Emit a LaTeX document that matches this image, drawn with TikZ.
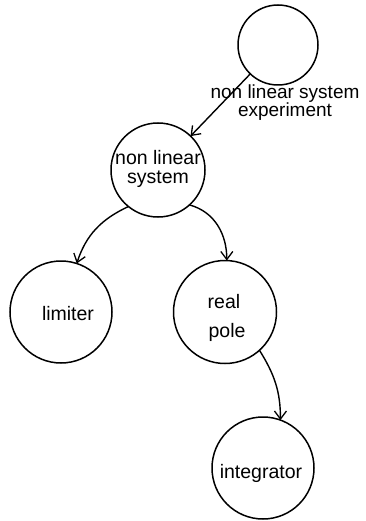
\documentclass[tikz,border=0pt]{standalone}
\usepackage{fontspec}
\setmainfont{Liberation Sans}
\usetikzlibrary{arrows.meta}
\begin{document}
\begin{tikzpicture}[x=1pt,y=-1pt,
  state/.style={draw,circle,line width=1.5pt,inner sep=0pt,outer sep=0pt},
  txt/.style={font=\fontsize{19.5}{19.5}\selectfont,inner sep=0pt,anchor=base},
  lbl/.style={font=\fontsize{19}{19}\selectfont,inner sep=0pt,anchor=base},
  conn/.style={line width=1.4pt,-{Straight Barb[length=8pt,width=12pt,line width=1.3pt]}}]
\useasboundingbox (0,0) rectangle (366,521);
\node[state,minimum size=80pt] (top) at (278,45) {};
\node[state,minimum size=94pt] (nls) at (158,170) {};
\node[state,minimum size=102pt] (lim) at (61,312) {};
\node[state,minimum size=103pt] (rp) at (225,312) {};
\node[state,minimum size=102pt] (int) at (263,468) {};
% texts
\node[lbl] (lab1) at (285,99) {non linear system};
\node[lbl] (lab2) at (285,117) {experiment};
\node[txt] (t1) at (158,165) {non linear};
\node[txt] (t2) at (158,184) {system};
\node[txt] (t3) at (68,320) {limiter};
\node[txt] (t4) at (224,308) {real};
\node[txt] (t5) at (227,337) {pole};
\node[txt] (t6) at (261,478) {integrator};
% connectors
\draw[conn] (top) -- (nls);
\draw[conn] (nls.231) to[out=205,in=72] (lim.72);
\draw[conn] (nls.-48) to[out=-15,in=90] (rp.88);
\draw[conn] (rp.-48) to[out=-58,in=90] (int.70);
\end{tikzpicture}
\end{document}
